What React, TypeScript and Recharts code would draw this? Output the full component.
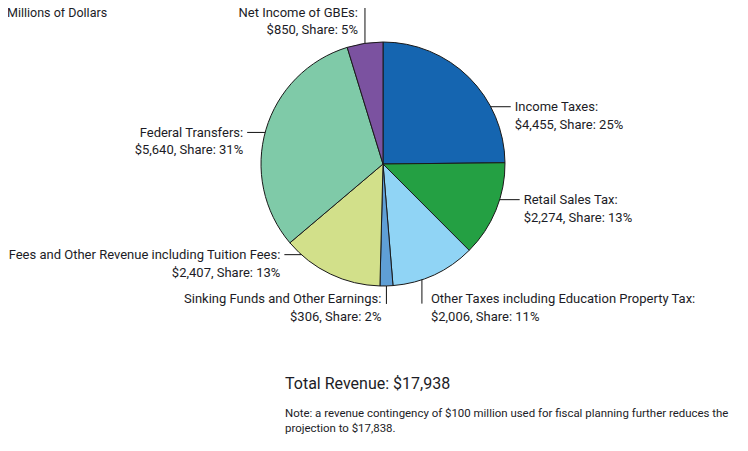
import React from 'react';
import { PieChart, Pie, Cell } from 'recharts';

const categories = [
  'Income Taxes',
  'Retail Sales Tax',
  'Other Taxes including Education Property Tax',
  'Sinking Funds and Other Earnings',
  'Fees and Other Revenue including Tuition Fees',
  'Federal Transfers',
  'Net Income of GBEs',
];
const values = [4455, 2274, 2006, 306, 2407, 5640, 850];
const shares = [25, 13, 11, 2, 13, 31, 5];
const colors = ['#1565b0', '#24a043', '#90d4f5', '#5f9fd6', '#d2e08a', '#7fcaa8', '#7b52a0'];

const totalLabel = 'Total Revenue: $17,938';
const noteLines = [
  'Note: a revenue contingency of $100 million used for fiscal planning further reduces the',
  'projection to $17,838.',
];
const unitsLabel = 'Millions of Dollars';

const data = categories.map((name, i) => ({ name, value: values[i], share: shares[i] }));

// label layout: anchor angle (degrees clockwise from 12 o'clock), leader direction, length
const labelLayout = [
  { angle: 62, dir: 'right', len: 20 },
  { angle: 107, dir: 'right', len: 20 },
  { angle: 161.4, dir: 'down', len: 24, side: 'start' },
  { angle: 178.4, dir: 'down', len: 18, side: 'end' },
  { angle: 222, dir: 'left', len: 17 },
  { angle: 285, dir: 'left', len: 18 },
  { angle: 351.5, dir: 'up', len: 38 },
];

const FONT = "Roboto, 'Liberation Sans', Arial, sans-serif";
const TEXT = '#1c1c26';
const FS = 13;
const LH = 17.5;

const renderLabel = (props: any) => {
  const { cx, cy, outerRadius, index } = props;
  const cfg = labelLayout[index];
  const d = data[index];
  if (!cfg || !d) return null;
  const a = (cfg.angle * Math.PI) / 180;
  const sx = cx + outerRadius * Math.sin(a);
  const sy = cy - outerRadius * Math.cos(a);
  let ex = sx;
  let ey = sy;
  if (cfg.dir === 'right') ex = sx + cfg.len;
  if (cfg.dir === 'left') ex = sx - cfg.len;
  if (cfg.dir === 'down') ey = sy + cfg.len;
  if (cfg.dir === 'up') ey = sy - cfg.len;
  let tx = ex;
  let ty = ey;
  let anchor: 'start' | 'end' = 'start';
  if (cfg.dir === 'right') {
    tx = ex + 4;
    ty = ey + 4.5;
    anchor = 'start';
  } else if (cfg.dir === 'left') {
    tx = ex - 4;
    ty = ey + 4.5;
    anchor = 'end';
  } else if (cfg.dir === 'down') {
    if (cfg.side === 'start') {
      tx = ex + 9;
      anchor = 'start';
    } else {
      tx = ex - 5;
      anchor = 'end';
    }
    ty = ey - 5 + 4.5;
  } else {
    tx = ex - 7;
    anchor = 'end';
    ty = ey + 7 + 4.5;
  }
  const line2 = `$${d.value.toLocaleString('en-US')}, Share: ${d.share}%`;
  return (
    <g key={`lbl-${index}`}>
      <line x1={sx} y1={sy} x2={ex} y2={ey} stroke="#111" strokeWidth={1} />
      <text x={tx} y={ty} textAnchor={anchor} fill={TEXT} fontSize={FS} fontFamily={FONT}>
        <tspan x={tx} y={ty}>{`${d.name}:`}</tspan>
        <tspan x={tx} y={ty + LH}>{line2}</tspan>
      </text>
    </g>
  );
};

export default function App() {
  return (
    <div style={{ position: 'relative', width: 740, height: 435, fontFamily: FONT, color: TEXT }}>
      <div style={{ position: 'absolute', left: -1, top: -3, fontSize: 12.5, lineHeight: '16px', whiteSpace: 'nowrap' }}>
        {unitsLabel}
      </div>
      <div style={{ position: 'absolute', left: -8, top: -8 }}>
        <PieChart width={748} height={443} margin={{ top: 0, right: 0, bottom: 0, left: 0 }}>
          <Pie
            data={data}
            dataKey="value"
            nameKey="name"
            cx={383}
            cy={164}
            outerRadius={122}
            startAngle={90}
            endAngle={-270}
            stroke="#1a1a1a"
            strokeWidth={1}
            label={renderLabel}
            labelLine={false}
            isAnimationActive={false}
          >
            {data.map((d, i) => (
              <Cell key={d.name} fill={colors[i]} />
            ))}
          </Pie>
        </PieChart>
      </div>
      <div style={{ position: 'absolute', left: 277, top: 366, fontSize: 16, lineHeight: '20px', whiteSpace: 'nowrap' }}>
        {totalLabel}
      </div>
      <div style={{ position: 'absolute', left: 277, top: 397.5, fontSize: 11.45, lineHeight: '15px', whiteSpace: 'nowrap' }}>
        {noteLines.map((l) => (
          <div key={l}>{l}</div>
        ))}
      </div>
    </div>
  );
}
